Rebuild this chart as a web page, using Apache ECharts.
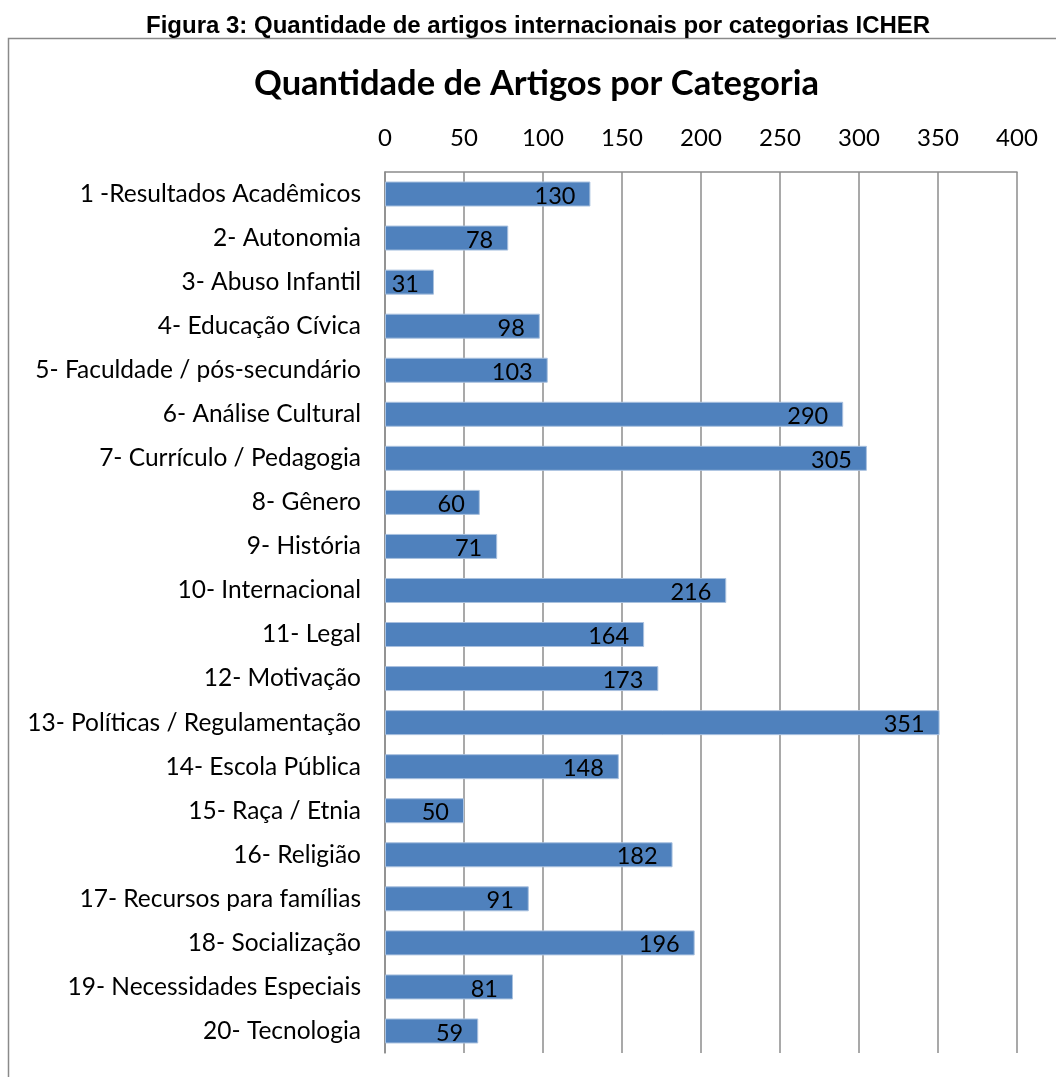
<!DOCTYPE html>
<html lang="pt-BR">
<head>
<meta charset="UTF-8">
<title>Quantidade de Artigos por Categoria</title>
<script type="text/javascript" src="https://cdn.jsdelivr.net/npm/echarts@6/dist/echarts.min.js"></script>
<style>
  html, body { margin: 0; padding: 0; background: #fff; }
  #main { width: 1056px; height: 1077px; }
</style>
</head>
<body>
<div id="main"></div>
<script type="text/javascript">
// categorias ICHER (de cima para baixo)
var categorias = [
    '1 -Resultados Acadêmicos',
    '2- Autonomia',
    '3- Abuso Infantil',
    '4- Educação Cívica',
    '5- Faculdade / pós-secundário',
    '6- Análise Cultural',
    '7- Currículo / Pedagogia',
    '8- Gênero',
    '9- História',
    '10- Internacional',
    '11- Legal',
    '12- Motivação',
    '13- Políticas / Regulamentação',
    '14- Escola Pública',
    '15- Raça / Etnia',
    '16- Religião',
    '17- Recursos para famílias',
    '18- Socialização',
    '19- Necessidades Especiais',
    '20- Tecnologia'
];
// quantidade de artigos
var quantidades = [130, 78, 31, 98, 103, 290, 305, 60, 71, 216, 164, 173, 351, 148, 50, 182, 91, 196, 81, 59];
// eixo x
var eixoMin = 0;
var eixoMax = 400;
var eixoPasso = 50;

var myChart = echarts.init(document.getElementById('main'));

var fonte = "Lato, 'Open Sans', sans-serif";

myChart.setOption({
    animation: false,
    backgroundColor: '#ffffff',
    title: [{
        text: 'Figura 3: Quantidade de artigos internacionais por categorias ICHER',
        left: 141,
        top: 9,
        textStyle: {
            fontFamily: "'Liberation Sans', Arial, sans-serif",
            fontWeight: 'bold',
            fontSize: 24,
            color: '#000'
        }
    }, {
        text: 'Quantidade de Artigos por Categoria',
        left: 249,
        top: 61,
        textStyle: {
            fontFamily: fonte,
            fontWeight: 'bold',
            fontSize: 34.5,
            color: '#000'
        }
    }],
    graphic: [{
        type: 'rect',
        shape: { x: 8.5, y: 38.5, width: 1100, height: 1100 },
        style: { fill: null, stroke: '#8a8a8a', lineWidth: 1.5 },
        silent: true
    }],
    grid: {
        left: 385,
        right: 39,
        top: 172,
        bottom: 24
    },
    xAxis: {
        type: 'value',
        position: 'top',
        min: eixoMin,
        max: eixoMax,
        interval: eixoPasso,
        axisLine: { show: true, lineStyle: { color: '#8c8c8c', width: 1.5 } },
        axisTick: { show: false },
        axisLabel: {
            margin: 22,
            fontFamily: fonte,
            fontSize: 24,
            color: '#000'
        },
        splitLine: { show: true, lineStyle: { color: '#8c8c8c', width: 1.5 } }
    },
    yAxis: {
        type: 'category',
        inverse: true,
        data: categorias,
        axisLine: { show: true, lineStyle: { color: '#8c8c8c', width: 1.5 } },
        axisTick: { show: false },
        axisLabel: {
            margin: 24,
            padding: [5, 0, 0, 0],
            fontFamily: fonte,
            fontSize: 24.5,
            color: '#000'
        }
    },
    series: [{
        name: 'Quantidade',
        type: 'bar',
        data: quantidades,
        barWidth: 25,
        itemStyle: { color: '#4f81bd', borderColor: '#a9c1df', borderWidth: 1 },
        label: {
            show: true,
            position: 'insideRight',
            distance: 15,
            fontFamily: fonte,
            fontSize: 23.5,
            color: '#000',
            offset: [0, 2]
        }
    }]
});
</script>
</body>
</html>
